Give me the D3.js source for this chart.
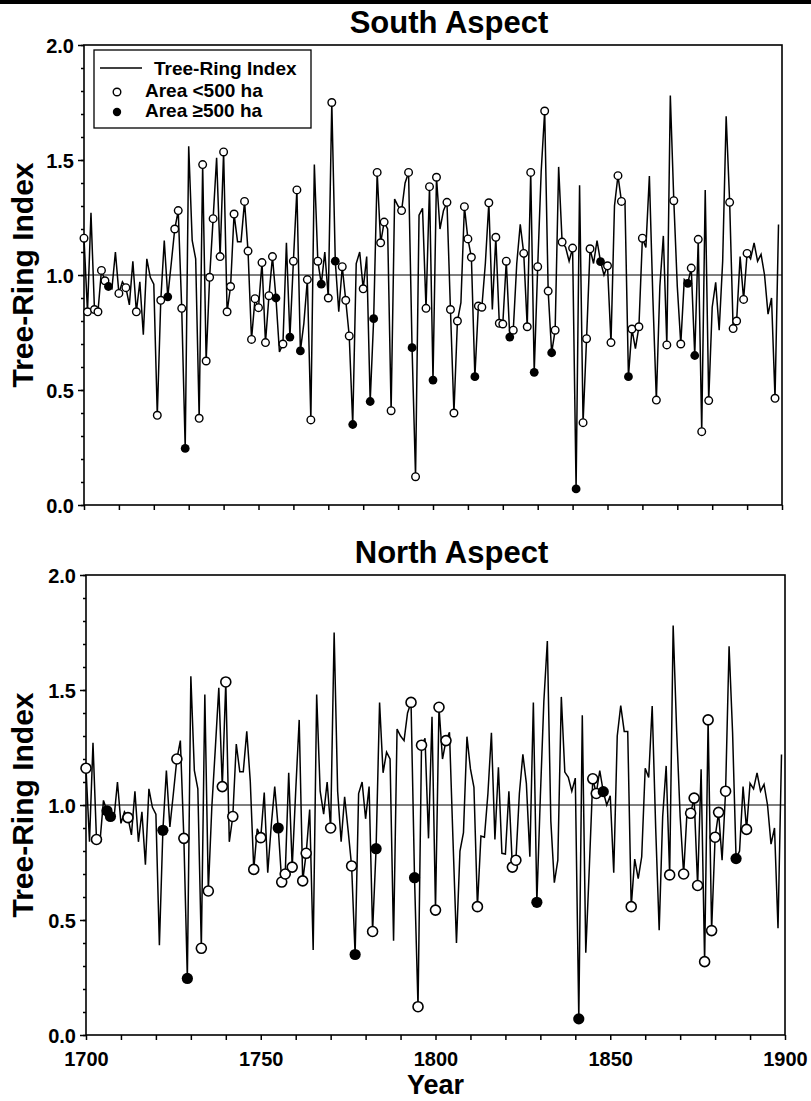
<!DOCTYPE html>
<html>
<head>
<meta charset="utf-8">
<script src="https://cdn.jsdelivr.net/npm/d3@7"></script>
<style>
  body { margin: 0; background: #fff; }
  text { font-family: "Liberation Sans", Arial, sans-serif; font-weight: bold; fill: #000; }
</style>
</head>
<body>
<div class="canvas"></div>
<script>
// tree-ring index, one value per year starting 1700
const firstYear = 1700;
const ringIndex = [
  1.16, 0.84, 1.27, 0.85, 0.84, 1.02, 0.975, 0.95, 0.94, 1.10,
  0.92, 0.97, 0.945, 0.87, 1.06, 0.84, 0.97, 0.74, 1.07, 0.99,
  0.96, 0.39, 0.89, 1.15, 0.905, 1.05, 1.20, 1.28, 0.855, 0.246,
  1.56, 1.15, 1.07, 0.377, 1.48, 0.626, 0.99, 1.245, 1.51, 1.08,
  1.535, 0.84, 0.95, 1.265, 1.145, 1.145, 1.32, 1.104, 0.72, 0.897,
  0.858, 1.054, 0.706, 0.91, 1.08, 0.90, 0.665, 0.70, 1.14, 0.73,
  1.06, 1.37, 0.67, 0.79, 0.98, 0.37, 1.48, 1.06, 0.96, 1.10,
  0.90, 1.75, 1.06, 0.84, 1.036, 0.89, 0.735, 0.35, 1.05, 1.10,
  0.94, 1.08, 0.45, 0.81, 1.446, 1.14, 1.23, 1.20, 0.41, 1.33,
  1.30, 1.28, 1.40, 1.446, 0.684, 0.123, 1.26, 1.29, 0.855, 1.384,
  0.543, 1.425, 1.20, 1.28, 1.316, 0.85, 0.40, 0.80, 0.88, 1.297,
  1.157, 1.077, 0.558, 0.865, 0.86, 1.05, 1.314, 0.85, 1.164, 0.79,
  0.787, 1.06, 0.73, 0.76, 1.05, 1.22, 1.094, 0.775, 1.446, 0.577,
  1.036, 1.45, 1.713, 0.93, 0.662, 0.76, 1.47, 1.143, 1.12, 1.06,
  1.117, 0.07, 1.39, 0.358, 0.723, 1.114, 1.05, 1.15, 1.058, 1.00,
  1.04, 0.706, 1.30, 1.432, 1.32, 1.32, 0.558, 0.765, 0.68, 0.775,
  1.16, 1.12, 1.43, 0.90, 0.456, 0.95, 1.17, 0.696, 1.78, 1.323,
  0.95, 0.70, 0.98, 0.964, 1.03, 0.65, 1.155, 0.319, 1.37, 0.454,
  0.86, 0.968, 0.76, 1.06, 1.69, 1.316, 0.767, 0.80, 1.08, 0.894,
  1.094, 1.07, 1.14, 1.06, 1.09, 1.00, 0.83, 0.90, 0.464, 1.22
];

// fire years on the south aspect
const southSmall = [1700, 1701, 1703, 1704, 1705, 1706, 1710, 1712, 1715, 1721, 1722,
  1726, 1727, 1728, 1733, 1734, 1735, 1736, 1737, 1739, 1740, 1741, 1742, 1743, 1746,
  1747, 1748, 1749, 1750, 1751, 1752, 1753, 1754, 1757, 1760, 1761, 1764, 1765, 1767,
  1770, 1771, 1774, 1775, 1776, 1780, 1784, 1785, 1786, 1788, 1791, 1793, 1795, 1798,
  1799, 1801, 1804, 1805, 1806, 1807, 1809, 1810, 1811, 1813, 1814, 1816, 1818, 1819,
  1820, 1821, 1823, 1826, 1827, 1828, 1830, 1832, 1833, 1835, 1837, 1840, 1843, 1844,
  1845, 1850, 1851, 1853, 1854, 1857, 1859, 1860, 1864, 1867, 1869, 1871, 1874, 1876,
  1877, 1879, 1885, 1886, 1887, 1889, 1890, 1898];
const southLarge = [1707, 1724, 1729, 1755, 1759, 1762, 1768, 1772, 1777, 1782, 1783,
  1794, 1800, 1812, 1822, 1829, 1834, 1841, 1848, 1856, 1873, 1875];

// fire years on the north aspect
const northSmall = [1700, 1703, 1712, 1726, 1728, 1733, 1735, 1739, 1740, 1742, 1748,
  1750, 1756, 1757, 1759, 1762, 1763, 1770, 1776, 1782, 1793, 1795, 1796, 1800, 1801,
  1803, 1812, 1822, 1823, 1845, 1846, 1856, 1867, 1871, 1873, 1874, 1875, 1877, 1878,
  1879, 1880, 1881, 1883, 1889];
const northLarge = [1706, 1707, 1722, 1729, 1755, 1777, 1783, 1794, 1829, 1841, 1848, 1886];

const yMajor = [0, 0.5, 1.0, 1.5, 2.0];
const xMajor = [1700, 1750, 1800, 1850, 1900];

const series = ringIndex.map((v, i) => ({ year: firstYear + i, value: v }));
const valueOf = (yr) => ringIndex[yr - firstYear];

const svg = d3.select(".canvas").append("svg")
  .attr("width", 811).attr("height", 1101);

// thick rule along the top of the figure
svg.append("rect").attr("x", 0).attr("y", 0).attr("width", 811).attr("height", 4).attr("fill", "#000");

const drawPanel = (p) => {
  const x = d3.scaleLinear().domain([1700, 1900]).range([p.left, p.right]);
  const y = d3.scaleLinear().domain([0, 2]).range([p.bottom, p.top]);
  const g = svg.append("g");

  // title
  g.append("text")
    .attr("x", (p.left + p.right) / 2 + 16)
    .attr("y", p.top - 12)
    .attr("text-anchor", "middle")
    .style("font-size", "31px")
    .text(p.title);

  // y axis: major ticks with labels, minor ticks every 0.1
  const yAxis = d3.axisLeft(y).tickValues(yMajor).tickSize(6).tickPadding(4).tickFormat(d3.format(".1f"));
  const yAxisMinor = d3.axisLeft(y).tickValues(d3.range(0, 2.01, 0.1)).tickSize(3).tickFormat("");
  g.append("g").attr("transform", `translate(${p.left},0)`).call(yAxisMinor);
  const yg = g.append("g").attr("transform", `translate(${p.left},0)`).call(yAxis);
  yg.selectAll("text").style("font-size", "20px").attr("dy", "0.35em");

  // x axis ticks every 10 years
  const xAxis = d3.axisBottom(x).tickValues(d3.range(1700, 1901, 10)).tickSize(5)
    .tickFormat((d) => (p.xLabels && xMajor.includes(d) ? d : ""));
  const xg = g.append("g").attr("transform", `translate(0,${p.bottom})`).call(xAxis);
  xg.selectAll("text").style("font-size", "20px").attr("dy", "1.15em");

  g.selectAll(".domain").remove();
  g.selectAll(".tick line").attr("stroke", "#000").attr("stroke-width", 1.5);

  // frame
  g.append("rect")
    .attr("x", p.left).attr("y", p.top)
    .attr("width", p.right - p.left).attr("height", p.bottom - p.top)
    .attr("fill", "none").attr("stroke", "#000").attr("stroke-width", 1.6);

  // reference line at 1.0
  g.append("line")
    .attr("x1", p.left).attr("x2", p.right)
    .attr("y1", y(1)).attr("y2", y(1))
    .attr("stroke", "#000").attr("stroke-width", 1.2);

  // tree-ring line
  const line = d3.line().x((d) => x(d.year)).y((d) => y(d.value));
  g.append("path").datum(series)
    .attr("fill", "none").attr("stroke", "#000").attr("stroke-width", 1.5)
    .attr("stroke-linejoin", "miter").attr("d", line);

  // fire markers
  g.selectAll(".open").data(p.small).enter().append("circle")
    .attr("class", "open")
    .attr("cx", (d) => x(d)).attr("cy", (d) => y(valueOf(d)))
    .attr("r", p.r).attr("fill", "#fff").attr("stroke", "#000").attr("stroke-width", p.sw);
  g.selectAll(".filled").data(p.large).enter().append("circle")
    .attr("class", "filled")
    .attr("cx", (d) => x(d)).attr("cy", (d) => y(valueOf(d)))
    .attr("r", p.r + 0.6).attr("fill", "#000");

  // y axis title
  g.append("text")
    .attr("transform", `translate(33,${(p.top + p.bottom) / 2}) rotate(-90)`)
    .attr("text-anchor", "middle")
    .style("font-size", "30px")
    .text("Tree-Ring Index");

  if (p.xLabels) {
    g.append("text")
      .attr("x", (p.left + p.right) / 2)
      .attr("y", 1094)
      .attr("text-anchor", "middle")
      .style("font-size", "27px")
      .text("Year");
  }

  if (p.legend) {
    const lg = g.append("g");
    lg.append("rect").attr("x", 94).attr("y", 50).attr("width", 217).attr("height", 78)
      .attr("fill", "#fff").attr("stroke", "#000").attr("stroke-width", 1.3);
    lg.append("line").attr("x1", 100).attr("x2", 142).attr("y1", 68).attr("y2", 68)
      .attr("stroke", "#000").attr("stroke-width", 1.4);
    lg.append("text").attr("x", 154).attr("y", 75).style("font-size", "19px").text("Tree-Ring Index");
    lg.append("circle").attr("cx", 117).attr("cy", 92).attr("r", 3.8)
      .attr("fill", "#fff").attr("stroke", "#000").attr("stroke-width", 1.4);
    lg.append("text").attr("x", 145).attr("y", 97).style("font-size", "19px").text("Area <500 ha");
    lg.append("circle").attr("cx", 117).attr("cy", 112).attr("r", 4.2).attr("fill", "#000");
    lg.append("text").attr("x", 145).attr("y", 117).style("font-size", "19px").text("Area \u2265500 ha");
  }
};

drawPanel({ title: "South Aspect", left: 84, right: 782, top: 45, bottom: 505,
  small: southSmall, large: southLarge, r: 3.8, sw: 1.4, xLabels: false, legend: true });
drawPanel({ title: "North Aspect", left: 86, right: 785, top: 575, bottom: 1035,
  small: northSmall, large: northLarge, r: 5, sw: 1.6, xLabels: true, legend: false });
</script>
</body>
</html>
